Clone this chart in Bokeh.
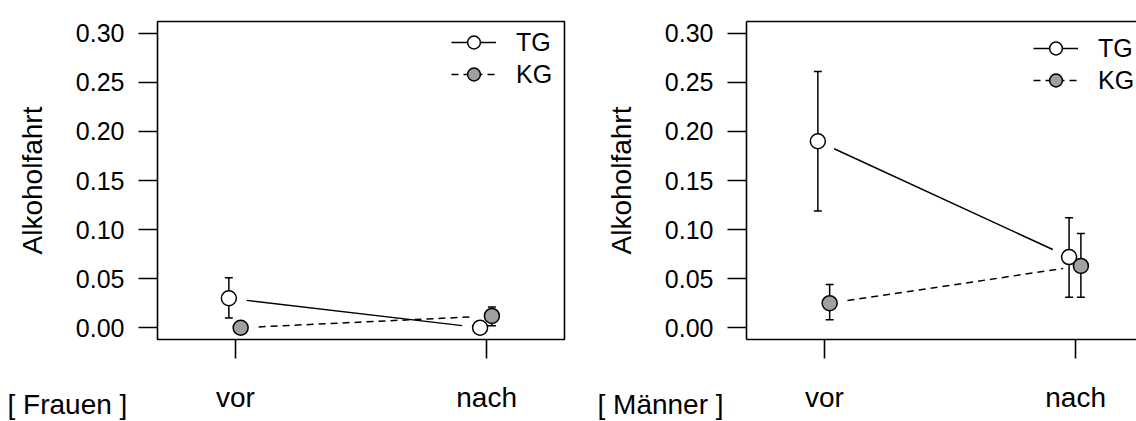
import math
from bokeh.plotting import figure
from bokeh.models import (Range1d, FixedTicker, Whisker, TeeHead, ColumnDataSource,
                          Legend, LegendItem, LinearAxis, NumeralTickFormatter)
from bokeh.core.properties import value
from bokeh.layouts import row
from bokeh.embed import file_html
from bokeh.resources import INLINE

# ---------------- data ----------------
phases = ["vor", "nach"]
phase_pos = [1, 2]
groups = ["TG", "KG"]
y_label = "Alkoholfahrt"
y_ticks = [0.00, 0.05, 0.10, 0.15, 0.20, 0.25, 0.30]
panel_names = ["[ Frauen ]", "[ Männer ]"]

frauen_tg_mean = [0.030, 0.000]
frauen_tg_lo = [0.010, 0.000]
frauen_tg_hi = [0.051, 0.000]
frauen_kg_mean = [0.000, 0.012]
frauen_kg_lo = [0.000, 0.002]
frauen_kg_hi = [0.000, 0.021]

maenner_tg_mean = [0.190, 0.072]
maenner_tg_lo = [0.119, 0.031]
maenner_tg_hi = [0.261, 0.112]
maenner_kg_mean = [0.025, 0.063]
maenner_kg_lo = [0.008, 0.031]
maenner_kg_hi = [0.044, 0.096]

# ---------------- style ----------------
FONT = "Liberation Sans"
H = 421
LW = 1.5
KG_FILL = "#a0a0a0"
DODGE = {"TG": -0.026, "KG": 0.021}
X_START, X_FULL_END = 0.69, 2.31
Y_START, Y_END = -0.012, 0.312
GAP = 18  # px gap between connecting line and points (R type="b")
ROW_H = 32
NAME_BASELINE = 406  # canvas px (empirically offset)


def shorten(xs, ys, sx, sy, gap):
    x0, x1 = xs
    y0, y1 = ys
    L = math.hypot((x1 - x0) * sx, (y1 - y0) * sy)
    t0, t1 = gap / L, 1 - gap / L
    return ([x0 + (x1 - x0) * t0, x0 + (x1 - x0) * t1],
            [y0 + (y1 - y0) * t0, y0 + (y1 - y0) * t1])


def make_panel(name, series, width, mb_left, mb_right, mb_top, mb_bottom, frame_w_full,
               boxed, legend_dx, legend_dy, name_x):
    frame_w = width - mb_left - mb_right
    frame_h = H - mb_top - mb_bottom
    x_end = X_START + (X_FULL_END - X_START) * frame_w / frame_w_full
    p = figure(width=width, height=H, output_backend="svg", toolbar_location=None,
               x_range=Range1d(X_START, x_end), y_range=Range1d(Y_START, Y_END),
               min_border_left=mb_left, min_border_right=mb_right,
               min_border_top=mb_top, min_border_bottom=mb_bottom)
    p.xgrid.visible = False
    p.ygrid.visible = False
    p.background_fill_color = "white"
    p.border_fill_color = "white"
    sx = frame_w / (x_end - X_START)
    sy = frame_h / (Y_END - Y_START)

    for ax in (p.xaxis[0], p.yaxis[0]):
        ax.major_tick_in = 0
        ax.major_tick_out = 19
        ax.minor_tick_in = 0
        ax.minor_tick_out = 0
        ax.major_tick_line_color = "black"
        ax.major_tick_line_width = 1.6
        ax.major_label_text_font = FONT
        ax.major_label_text_color = "black"
        ax.axis_line_width = 1.6
        ax.axis_line_color = None if boxed else "black"

    p.yaxis.ticker = FixedTicker(ticks=y_ticks)
    p.yaxis.formatter = NumeralTickFormatter(format="0.00")
    p.yaxis.major_label_text_font_size = "25px"
    p.yaxis.major_label_standoff = 14
    p.yaxis.axis_label = y_label
    p.yaxis.axis_label_text_font = FONT
    p.yaxis.axis_label_text_font_size = "28px"
    p.yaxis.axis_label_text_font_style = "normal"
    p.yaxis.axis_label_text_color = "black"
    p.yaxis.axis_label_standoff = 25

    p.xaxis.ticker = FixedTicker(ticks=phase_pos)
    p.xaxis.major_label_overrides = {pos: lab for pos, lab in zip(phase_pos, phases)}
    p.xaxis.major_label_text_font_size = "28px"
    p.xaxis.major_label_standoff = 23

    if boxed:
        p.outline_line_color = "black"
        p.outline_line_width = 1.6
    else:
        p.outline_line_color = None
        top_ax = LinearAxis(ticker=FixedTicker(ticks=[]), major_label_text_font_size="0px",
                            axis_line_color="black", axis_line_width=1.6,
                            major_tick_in=0, major_tick_out=0, minor_tick_in=0, minor_tick_out=0)
        p.add_layout(top_ax, "above")

    items = []
    for g, (mean, lo, hi) in zip(groups, series):
        xs = [pp + DODGE[g] for pp in phase_pos]
        src = ColumnDataSource(dict(x=xs, y=mean, lo=lo, hi=hi))
        lx, ly = shorten(xs, mean, sx, sy, GAP)
        dash = "solid" if g == "TG" else "7 5"
        r_line = p.line(lx, ly, line_color="black", line_width=LW, line_dash=dash)
        w = Whisker(base="x", lower="lo", upper="hi", source=src, line_color="black",
                    line_width=LW, level="underlay",
                    upper_head=TeeHead(size=8, line_width=LW, line_color="black"),
                    lower_head=TeeHead(size=8, line_width=LW, line_color="black"))
        p.add_layout(w)
        r_pts = p.scatter("x", "y", source=src, marker="circle", size=15,
                          fill_color="white" if g == "TG" else KG_FILL,
                          line_color="black", line_width=LW)
        items.append(LegendItem(label=g, renderers=[r_line, r_pts]))

    legend_h = ROW_H * len(items)
    legend = Legend(items=items, location=(legend_dx, frame_h - legend_dy - legend_h),
                    border_line_color=None, background_fill_alpha=0,
                    padding=0, margin=0, spacing=0,
                    glyph_width=45, glyph_height=ROW_H, label_height=ROW_H, label_standoff=20,
                    label_text_font=FONT, label_text_font_size="25px", label_text_color="black")
    p.add_layout(legend)

    # panel name below-left, outside the frame (overlay level is not clipped)
    name_xd = X_START + (name_x - mb_left) / sx
    name_yd = Y_START - (NAME_BASELINE - (mb_top + frame_h)) / sy
    p.text(x=[name_xd], y=[name_yd], text=[name], level="overlay",
           text_font=value(FONT), text_font_size="28px", text_color="black",
           text_align="left", text_baseline="alphabetic")
    return p


p1 = make_panel(panel_names[0],
                [(frauen_tg_mean, frauen_tg_lo, frauen_tg_hi),
                 (frauen_kg_mean, frauen_kg_lo, frauen_kg_hi)],
                width=570, mb_left=157, mb_right=6, mb_top=13, mb_bottom=82,
                frame_w_full=407, boxed=True, legend_dx=294, legend_dy=13, name_x=7)
p2 = make_panel(panel_names[1],
                [(maenner_tg_mean, maenner_tg_lo, maenner_tg_hi),
                 (maenner_kg_mean, maenner_kg_lo, maenner_kg_hi)],
                width=566, mb_left=176, mb_right=0, mb_top=21, mb_bottom=80,
                frame_w_full=407, boxed=False, legend_dx=287, legend_dy=13, name_x=27)

layout = row(p1, p2)
open("out.html", "w").write(file_html(layout, INLINE))
